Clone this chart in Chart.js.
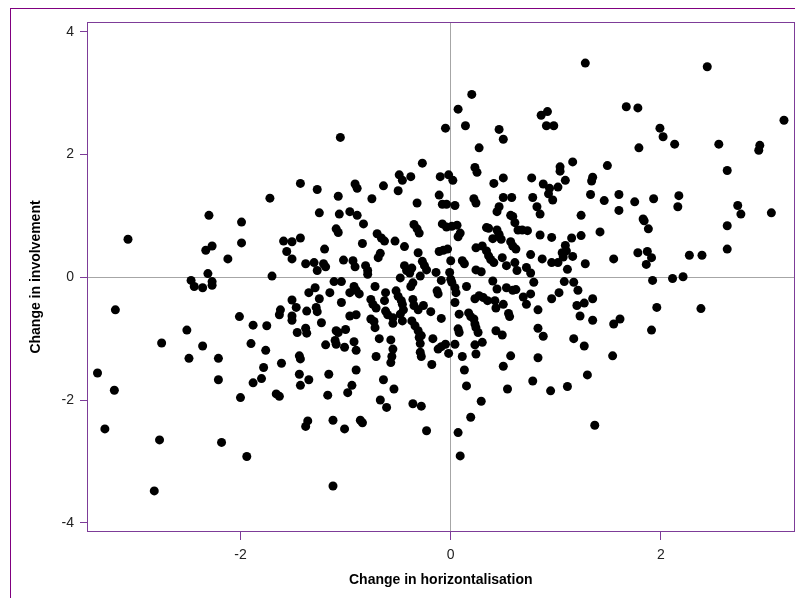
<!DOCTYPE html>
<html>
<head>
<meta charset="utf-8">
<script src="https://cdn.jsdelivr.net/npm/chart.js@4.4.1/dist/chart.umd.min.js"></script>
<style>
  body { margin: 0; overflow: hidden; background: #fff; }
  #frame { position: absolute; left: 10px; top: 8px; width: 820px; height: 620px; border: 1px solid #800080; }
  canvas { position: absolute; left: 0; top: 0; }
</style>
</head>
<body>
<div id="frame"></div>
<canvas id="myChart" width="799" height="598"></canvas>
<script>
let xTicks = [-2, 0, 2];
let yTicks = [-4, -2, 0, 2, 4];

// change in horizontalisation (x) and change in involvement (y), one entry per respondent
let horizontalisation = [
  -1.43,-1.27,-1.05,0.20,0.07,-0.05,0.14,0.46,0.50,0.27,0.86,0.92,0.91,0.98,-0.27,0.23,0.25,1.04,1.04,-0.49,
  -0.46,-0.38,-0.10,-0.02,0.02,-0.91,-0.89,-0.64,-0.50,0.41,0.50,0.77,0.88,0.94,1.02,1.28,2.44,1.67,1.78,3.17,
  1.99,2.02,2.13,2.55,2.94,2.93,1.79,2.63,1.16,1.49,1.09,1.35,1.34,
  1.33,1.60,1.46,1.75,1.93,2.17,2.16,1.60,1.24,2.73,2.76,3.05,1.83,1.84,1.88,2.63,1.42,1.24,1.15,1.09,
  1.06,1.10,1.07,1.16,1.02,1.28,1.11,1.55,1.78,1.87,1.91,1.86,2.27,2.39,2.63,1.92,2.11,2.21,1.08,1.17,
  1.21,1.03,1.20,1.27,1.35,1.23,1.35,1.61,1.55,1.96,2.38,1.91,1.17,1.27,1.54,
  1.30,1.11,1.37,
  -1.72,-2.30,-1.99,-1.25,-3.07,-2.27,-2.33,-1.99,-2.12,-1.59,-1.51,-1.43,-1.56,-1.51,-1.38,-1.30,-1.27,-1.21,-1.20,
  -2.31,-2.47,-2.44,-2.36,-2.27,-2.27,-1.70,-3.19,-1.29,-1.35,-1.51,-1.25,-1.62,-1.63,-1.47,-1.51,-1.51,-1.37,
  -1.28,-1.27,-1.23,-2.01,-1.88,-1.75,-2.51,-1.46,-1.38,-1.37,-2.75,-2.36,-1.90,-1.76,-2.49,-2.21,-1.61,
  -1.44,-1.43,
  -3.36,-3.20,-2.21,-1.78,-1.80,-1.88,-2.00,-1.66,-1.63,-1.44,-1.35,-1.43,-1.36,-1.38,-3.29,-2.77,-2.18,-1.94,-2.82,
  -1.16,-0.90,-0.94,-0.98,-1.17,-0.64,-0.54,-0.67,-0.61,-0.36,-0.28,-1.12,-1.01,-0.86,-0.84,-0.23,-1.12,-0.57,
  -0.18,0.13,0.15,0.29,0.19,0.07,0.09,0.50,0.54,0.78,0.95,
  -1.07,-0.75,-0.32,-0.11,-0.08,-0.04,0.04,0.22,0.24,0.50,0.58,0.46,0.44,0.78,0.82,0.85,0.93,0.97,-1.06,-0.96,
  -0.89,-0.83,-1.09,-1.07,-0.35,-0.32,-0.30,-0.08,-0.04,0.01,0.06,0.09,0.07,0.34,0.36,0.44,0.46,0.57,0.59,0.61,
  0.64,0.68,0.73,0.85,0.96,0.48,0.40,-0.70,-0.66,-0.63,-0.53,-0.84,-0.44,-0.31,-0.11,-0.07,-0.03,-0.67,-0.69,
  0.24,0.30,0.34,0.36,0.38,0.41,0.49,0.57,0.59,0.62,0.76,0.87,0.96,-1.19,-1.02,-0.93,-0.91,-0.81,-0.79,-0.79,
  -0.44,-0.42,-0.39,-0.37,-0.27,-0.25,-0.23,0.00,0.11,0.13,0.24,0.29,0.53,0.61,0.63,0.72,0.76,-0.48,-0.29,
  -0.36,-0.14,-0.09,-0.01,0.00,0.01,-1.11,-1.04,-1.15,-0.92,-0.90,-0.87,-0.96,-0.72,-0.62,-0.52,-0.50,-0.47,
  -0.38,-0.13,-0.12,0.04,0.05,0.15,0.23,0.27,0.31,0.35,0.40,0.44,0.53,0.59,0.62,0.42,0.43,0.50,0.69,0.72,
  0.76,0.79,0.96,0.83,0.55,0.56,0.17,0.19,0.22,0.23,0.24,0.08,0.04,-0.09,-0.19,-0.26,-0.36,-0.35,-0.31,
  -0.46,-0.45,-0.48,-0.46,-0.63,-0.62,-0.60,-0.76,-0.74,-0.71,-0.96,-0.90,-1.04,-0.76,-0.73,-0.72,-0.55,
  -0.55,-0.37,-0.34,-0.31,-0.28,0.07,0.08,0.26,0.43,0.49,0.83,0.88,-1.09,-1.07,-1.00,-1.10,-1.09,-1.01,
  -0.92,-0.90,-0.68,-0.57,-0.55,-0.56,-0.30,-0.29,-0.29,-0.28,-0.17,-0.12,-0.09,-0.05,-0.02,0.04,0.11,0.23,
  0.30,0.24,0.57,0.83,-0.71,-1.19
];
let involvement = [
  1.53,1.43,2.28,2.98,2.74,2.43,2.47,2.41,2.25,2.11,2.64,2.70,2.47,2.47,1.86,1.79,1.71,1.80,1.73,1.67,
  1.58,1.64,1.64,1.67,1.58,1.52,1.45,1.49,1.41,1.53,1.62,1.62,1.52,1.45,1.47,3.49,3.43,2.78,2.76,2.56,
  2.43,2.29,2.17,2.17,2.15,2.07,2.11,1.74,1.88,1.82,1.58,1.63,1.57,
  1.35,1.35,1.25,1.23,1.28,1.33,1.15,1.09,1.01,1.17,1.03,1.05,0.95,0.92,0.79,0.84,0.74,0.68,0.64,0.52,
  0.40,0.43,0.33,0.34,0.24,0.22,0.13,0.30,0.40,0.42,0.32,0.21,0.36,0.36,0.46,-0.05,-0.02,0.01,-0.07,-0.08,
  -0.21,-0.25,-0.46,-0.42,-0.35,-0.63,-0.70,-0.68,-0.76,-0.49,-0.51,-0.86,-1.00,-1.12,-1.28,
  -1.59,-1.78,-2.41,
  1.29,1.01,0.90,1.05,0.62,0.51,0.44,0.56,0.30,0.59,0.58,0.64,0.42,0.30,0.22,0.24,0.11,0.22,0.46,
  0.06,-0.05,-0.15,-0.17,-0.07,-0.13,0.02,-0.53,-0.17,-0.25,-0.37,-0.35,-0.53,-0.61,-0.49,-0.63,-0.70,-0.55,
  -0.49,-0.56,-0.74,-0.64,-0.78,-0.79,-0.86,-0.90,-0.83,-0.91,-1.07,-1.12,-1.08,-1.19,-1.32,-1.32,-1.40,
  -1.28,-1.33,
  -1.56,-1.84,-1.67,-1.47,-1.65,-1.72,-1.96,-1.90,-1.94,-1.58,-1.67,-1.76,-2.34,-2.43,-2.47,-2.65,-2.69,-2.92,-3.48,
  -1.58,-1.51,-1.76,-1.88,-1.92,-1.67,-1.82,-2.00,-2.12,-2.06,-2.10,-2.33,-2.47,-2.33,-2.37,-2.50,-3.40,-1.39,
  -1.42,-1.51,-1.77,-2.02,-2.28,-2.53,-2.91,-1.45,-1.82,-1.69,-1.85,
  1.32,1.28,1.21,1.34,1.19,1.19,1.17,1.28,1.21,1.30,1.30,1.15,1.07,1.30,1.15,1.03,1.36,1.26,1.03,1.07,
  1.01,0.87,0.79,0.73,0.86,0.79,0.72,0.87,0.82,0.83,0.85,0.72,0.66,0.81,0.80,0.77,0.70,1.01,0.99,0.89,
  0.77,0.77,0.76,0.69,0.65,0.62,0.63,0.71,0.64,0.59,0.59,0.55,0.50,0.40,0.42,0.44,0.46,0.39,0.32,
  0.48,0.51,0.43,0.35,0.29,0.24,0.32,0.58,0.51,0.46,0.37,0.30,0.24,0.17,0.28,0.27,0.17,0.19,0.11,0.05,
  0.19,0.11,0.07,0.15,0.26,0.19,0.12,0.27,0.27,0.22,0.12,0.09,0.19,0.24,0.11,0.16,0.07,-0.01,0.02,
  -0.09,0.08,-0.05,0.08,-0.03,-0.08,-0.07,-0.07,-0.25,-0.15,-0.21,-0.27,-0.25,-0.15,-0.25,-0.22,-0.31,-0.38,
  -0.15,-0.22,-0.27,-0.17,-0.25,-0.15,-0.35,-0.30,-0.33,-0.38,-0.06,-0.19,-0.17,-0.21,-0.20,-0.38,-0.50,-0.44,-0.32,-0.44,
  -0.27,-0.08,-0.35,-0.53,-0.59,-0.64,-0.58,-0.64,-0.68,-0.76,-0.82,-0.60,-0.41,-0.67,-0.56,-0.46,-0.36,-0.46,-0.53,
  -0.44,-0.53,-0.60,-0.71,-0.38,-0.55,-0.61,-0.36,-0.44,-0.50,-0.63,-0.61,-0.41,-0.68,-0.72,-0.82,-0.66,
  -0.75,-0.71,-0.79,-0.87,-0.95,-0.84,-0.90,-0.90,-0.87,-0.94,-0.83,-0.96,-0.87,-0.90,-0.85,-1.03,-1.09,-1.14,
  -1.05,-1.19,-1.00,-1.02,-1.17,-1.29,-0.98,-1.08,-1.22,-1.29,-1.00,-1.17,-1.13,-1.09,-1.24,-1.09,-1.29,-1.10,
  -1.06,-1.25,-1.28,-1.31,-1.29,-1.10
];

let points = horizontalisation.map((x, i) => ({ x: x, y: involvement[i] }));

let plotFrame = {
  id: 'plotFrame',
  afterDraw(chart) {
    let a = chart.chartArea;
    let ctx = chart.ctx;
    ctx.save();
    ctx.strokeStyle = '#7d3c98';
    ctx.lineWidth = 1;
    ctx.strokeRect(Math.round(a.left) + 0.5, Math.round(a.top) + 0.5,
      Math.round(a.right - a.left) - 1, Math.round(a.bottom - a.top) - 1);
    ctx.restore();
  }
};

let zeroLine = c => (c.tick && c.tick.value === 0) ? '#a6a6a6' : 'rgba(0,0,0,0)';
let tickFont = { family: 'Liberation Sans', size: 14 };
let titleFont = { family: 'Liberation Sans', size: 14, weight: 'bold' };

let myChart = document.getElementById('myChart').getContext('2d');
let chart = new Chart(myChart, {
  type: 'scatter',
  data: {
    datasets: [{
      data: points,
      backgroundColor: '#000',
      borderWidth: 0,
      pointRadius: 4.5,
      pointHoverRadius: 4.5
    }]
  },
  options: {
    responsive: false,
    animation: false,
    events: [],
    layout: { padding: { top: 22, right: 0, left: 0, bottom: 0 } },
    plugins: { legend: { display: false }, tooltip: { enabled: false } },
    scales: {
      x: {
        type: 'linear',
        min: -3.46,
        max: 3.27,
        afterBuildTicks: s => { s.ticks = xTicks.map(v => ({ value: v })); },
        afterFit: s => { s.height = 66; },
        grid: { color: zeroLine, tickColor: '#7d3c98', tickLength: 8, lineWidth: 1 },
        border: { display: false },
        ticks: { font: tickFont, color: '#222', padding: 7 },
        title: { display: true, text: 'Change in horizontalisation', font: titleFont, color: '#000', padding: { top: 0, bottom: 9 } }
      },
      y: {
        type: 'linear',
        min: -4.15,
        max: 4.16,
        afterBuildTicks: s => { s.ticks = yTicks.map(v => ({ value: v })); },
        afterFit: s => { s.width = 87; },
        grid: { color: zeroLine, tickColor: '#7d3c98', tickLength: 7, lineWidth: 1 },
        border: { display: false },
        ticks: { font: tickFont, color: '#222', padding: 6 },
        title: { display: true, text: 'Change in involvement', font: titleFont, color: '#000', padding: { top: 28, bottom: 0 } }
      }
    }
  },
  plugins: [plotFrame]
});
</script>
</body>
</html>
